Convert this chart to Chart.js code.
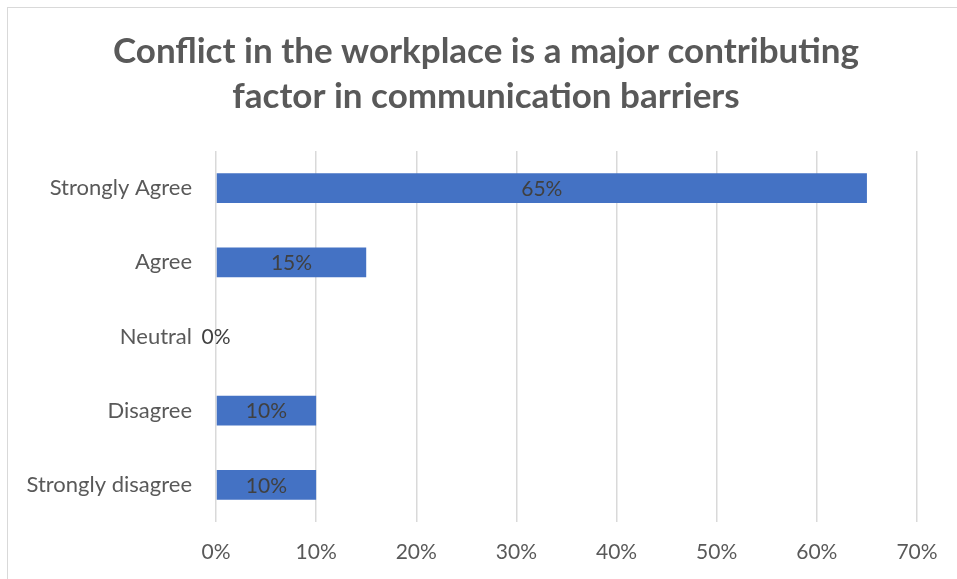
<!DOCTYPE html>
<html>
<head>
<meta charset="utf-8">
<script src="https://cdn.jsdelivr.net/npm/chart.js@4.4.1/dist/chart.umd.min.js"></script>
<style>
    html, body { margin: 0; padding: 0; background: #fff; overflow: hidden; }
    #frame {
        position: absolute; left: 7px; top: 7px;
        width: 1000px; height: 1000px;
        border: 1px solid #d9d9d9;
    }
    #chart { position: absolute; left: 0; top: 0; }
</style>
</head>
<body>
<div id="frame"></div>
<canvas id="chart" width="957" height="579"></canvas>
<script>
const titleLines = ['Conflict in the workplace is a major contributing', 'factor in communication barriers']
const categories = ['Strongly Agree', 'Agree', 'Neutral', 'Disagree', 'Strongly disagree']
const percentages = [65, 15, 0, 10, 10]
const axisMax = 70
const axisStep = 10

const FONT = 'Lato, "Open Sans", sans-serif'

// title is centred on the whole frame, not on the plot, so draw it by hand
const frameTitle = {
    id: 'frameTitle',
    afterDraw(chart) {
        const ctx = chart.ctx
        ctx.save()
        ctx.font = 'bold 35px ' + FONT
        ctx.fillStyle = '#595959'
        ctx.textAlign = 'center'
        ctx.textBaseline = 'middle'
        titleLines.forEach((line, i) => {
            ctx.fillText(line, 486, 52 + i * 45)
        })
        ctx.restore()
    }
}

// value labels centred on each bar (a zero bar gets its label on the axis)
const barLabels = {
    id: 'barLabels',
    afterDatasetsDraw(chart) {
        const ctx = chart.ctx
        const meta = chart.getDatasetMeta(0)
        ctx.save()
        ctx.font = '21px ' + FONT
        ctx.fillStyle = '#404040'
        ctx.textAlign = 'center'
        ctx.textBaseline = 'middle'
        meta.data.forEach((bar, i) => {
            const x = (bar.x + bar.base) / 2
            ctx.fillText(percentages[i] + '%', x, bar.y + 1)
        })
        ctx.restore()
    }
}

const chart = new Chart(document.getElementById('chart').getContext('2d'), {
    type: 'bar',
    data: {
        labels: categories,
        datasets: [{
            data: percentages,
            backgroundColor: '#4472c4',
            borderWidth: 0,
            barPercentage: 0.4,
            categoryPercentage: 1.0
        }]
    },
    options: {
        indexAxis: 'y',
        responsive: false,
        animation: false,
        layout: { padding: { top: 151, left: 0, right: 40, bottom: 0 } },
        plugins: {
            legend: { display: false },
            tooltip: { enabled: false },
            title: { display: false }
        },
        scales: {
            x: {
                min: 0,
                max: axisMax,
                ticks: {
                    stepSize: axisStep,
                    color: '#595959',
                    font: { family: FONT, size: 21 },
                    padding: 18,
                    callback: v => v + '%'
                },
                grid: { color: '#d9d9d9', lineWidth: 1.5, drawTicks: false },
                border: { display: false },
                afterFit: scale => { scale.height = 57 }
            },
            y: {
                ticks: {
                    color: '#595959',
                    font: { family: FONT, size: 22 },
                    padding: 24
                },
                grid: { display: false, drawTicks: false },
                border: { display: false },
                afterFit: scale => { scale.width = 216 }
            }
        }
    },
    plugins: [barLabels, frameTitle]
})
</script>
</body>
</html>
